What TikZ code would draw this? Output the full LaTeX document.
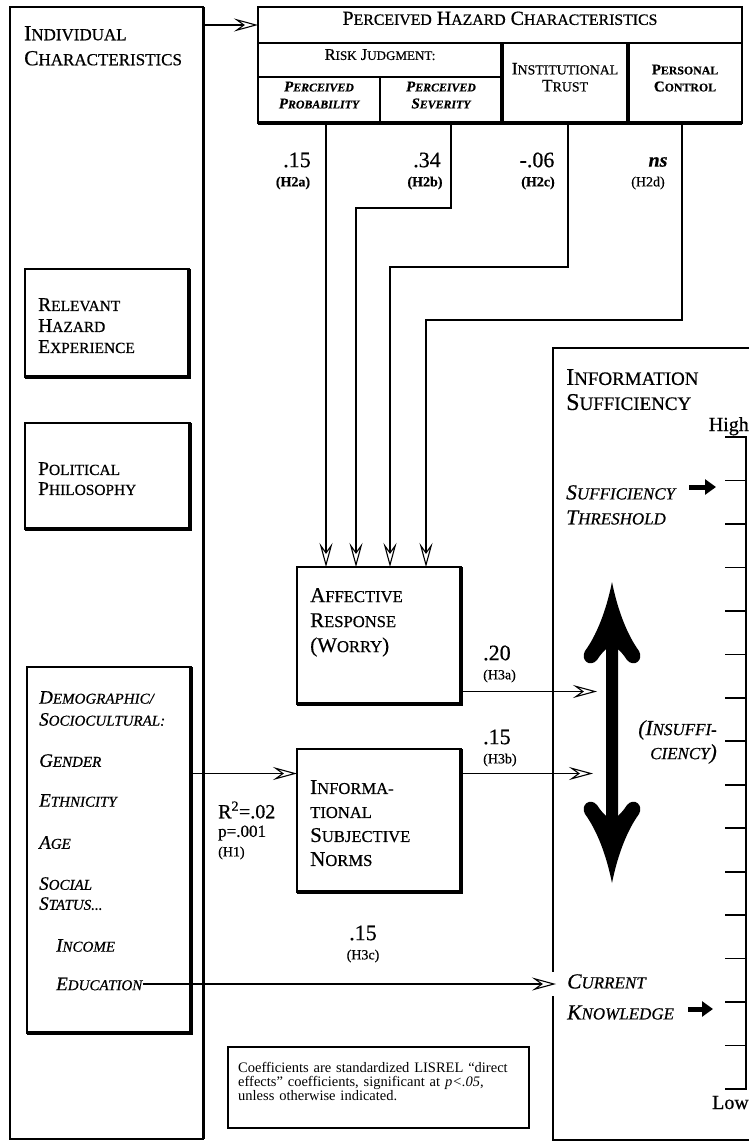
\documentclass[tikz,border=0pt]{standalone}
\usepackage{fontspec}
\setmainfont{Liberation Serif}[FakeBold=0.6]
\newfontfamily\timesf{Liberation Serif}
\usetikzlibrary{arrows.meta,fit,calc}
\makeatletter
\newcommand\fsc[2]{#1{\fontsize{\the\dimexpr0.79\dimexpr\f@size pt\relax\relax}{\the\baselineskip}\selectfont\uppercase{#2}}}
\makeatother
\tikzset{
  box/.style={draw, line width=1.3pt, inner sep=0pt, outer sep=0pt},
  heavy/.style={line width=3.5pt},
  conn/.style={line width=1.1pt, -{Stealth[open,fill=white,length=24pt,width=13pt,inset=9pt,line width=1.1pt]}},
  plain/.style={line width=1.1pt},
  txt/.style={anchor=north west, inner sep=0pt, align=left},
  lab/.style={inner sep=0pt},
  fat/.style={line width=5pt, -{Triangle[length=11pt,width=15pt]}},
  tickmark/.style={line width=1.6pt}
}
\begin{document}
\begin{tikzpicture}[x=1pt,y=-1pt]
\useasboundingbox[fill=white] (0,0) rectangle (748,1143);

% ---------- boxes ----------
\node[box, fit={(10,7)(203,1139)}] (indiv) {};
\node[box, fit={(25,269)(189,377)}] (rel) {};
\node[box, fit={(25,423)(190,529)}] (pol) {};
\node[box, fit={(27,667)(191,1033)}] (demo) {};
\node[box, fit={(297,567)(461,704)}] (affect) {};
\node[box, fit={(297,749)(461,892)}] (info) {};
\node[box, fit={(228,1047)(529,1128)}] (coefbox) {};
\node[box, line width=1.8pt, fit={(553,348)(780,1140)}] (suff) {};

\node[box, fit={(258,7)(742,43)}, font=\fontsize{20}{20}\selectfont] (phct)
  {\fsc{P}{erceived} \fsc{H}{azard} \fsc{C}{haracteristics}};
\node[box, fit={(258,43)(502,77)}, font=\fontsize{16.5}{17}\selectfont] (risk)
  {\fsc{R}{isk} \fsc{J}{udgment:}};
\node[box, fit={(258,77)(380,123)}, align=center, font=\bfseries\itshape\fontsize{15}{17}\selectfont] (prob)
  {\fsc{P}{erceived}\\\fsc{P}{robability}};
\node[box, fit={(380,77)(502,123)}, align=center, font=\bfseries\itshape\fontsize{15}{17}\selectfont] (sev)
  {\fsc{P}{erceived}\\\fsc{S}{everity}};
\node[box, fit={(502,43)(628,123)}, align=center, font=\fontsize{17.5}{17}\selectfont] (trust)
  {\fsc{I}{nstitutional}\\\fsc{T}{rust}};
\node[box, fit={(628,43)(742,123)}, align=center, font=\bfseries\fontsize{15}{17}\selectfont] (ctrl)
  {\fsc{P}{ersonal}\\\fsc{C}{ontrol}};

% heavy edges
\draw[heavy] (trust.north west) -- (trust.south west);
\draw[heavy] (ctrl.north west) -- (ctrl.south west);
\draw[heavy] (prob.south west) -- (ctrl.south east);
\draw[line width=2.5pt] (ctrl.north east) -- (ctrl.south east);
\draw[line width=3pt] (indiv.north east) -- (indiv.south east);
\foreach \n in {rel,pol,demo,affect,info}{
  \draw[heavy] (\n.north east) -- (\n.south east) -- (\n.south west);
}

% ---------- texts ----------
\node[txt, font=\fontsize{21.5}{25}\selectfont] (indivt) at (24,26) {\fsc{I}{ndividual}\\\fsc{C}{haracteristics}};
\node[txt, font=\fontsize{19.5}{21}\selectfont] (relt) at (38,298) {\fsc{R}{elevant}\\\fsc{H}{azard}\\\fsc{E}{xperience}};
\node[txt, font=\fontsize{19.5}{20}\selectfont] (polt) at (38,462) {\fsc{P}{olitical}\\\fsc{P}{hilosophy}};
\node[txt, font=\itshape\fontsize{19}{22}\selectfont] (demt) at (39,691) {\fsc{D}{emographic/}\\\fsc{S}{ociocultural:}};
\node[txt, font=\itshape\fontsize{19}{22}\selectfont] (gen) at (39,754) {\fsc{G}{ender}};
\node[txt, font=\itshape\fontsize{19}{22}\selectfont] (eth) at (39,794) {\fsc{E}{thnicity}};
\node[txt, font=\itshape\fontsize{19}{22}\selectfont] (age) at (39,836) {\fsc{A}{ge}};
\node[txt, font=\itshape\fontsize{19}{20}\selectfont] (soc) at (39,877) {\fsc{S}{ocial}\\\fsc{S}{tatus...}};
\node[txt, font=\itshape\fontsize{19}{22}\selectfont] (inc) at (56,939) {\fsc{I}{ncome}};
\node[anchor=west, inner sep=0pt, font=\itshape\fontsize{19}{22}\selectfont] (edu) at (56,984) {\fsc{E}{ducation}};

\node[txt, font=\fontsize{21}{25}\selectfont] (afft) at (310,588) {\fsc{A}{ffective}\\\fsc{R}{esponse}\\(\fsc{W}{orry})};
\node[txt, font=\fontsize{21}{24}\selectfont] (inft) at (310,780) {\fsc{I}{nforma-}\\\fsc{}{tional}\\\fsc{S}{ubjective}\\\fsc{N}{orms}};

\node[txt, font=\fontsize{24}{25}\selectfont] (sufft) at (566,369) {\fsc{I}{nformation}\\\fsc{S}{ufficiency}};
\node[txt, font=\itshape\fontsize{21.5}{25}\selectfont] (thr) at (566,485) {\fsc{S}{ufficiency}\\\fsc{T}{hreshold}};
\node[txt, font=\itshape\fontsize{21.5}{31}\selectfont] (cur) at (567,974) {\fsc{C}{urrent}\\\fsc{K}{nowledge}};
\node[anchor=north east, inner sep=0pt, align=right, font=\itshape\fontsize{21.5}{24}\selectfont] (insuf) at (717,720) {(\fsc{I}{nsuffi-}\\\fsc{}{ciency})};
\node[anchor=base east, inner sep=0pt, font=\fontsize{20}{20}\selectfont] (high) at (749,431) {High};
\node[anchor=base east, inner sep=0pt, font=\fontsize{20}{20}\selectfont] (low) at (749,1109) {Low};

\node[anchor=north west, inner sep=0pt, text width=281pt, font=\timesf\fontsize{14.5}{14}\selectfont] (coeft) at (238,1062)
  {\makebox[281pt][s]{Coefficients are standardized LISREL “direct}\newline
   \makebox[281pt][s]{effects” coefficients, significant at \textit{p<.05},}\newline
   unless otherwise indicated.};

% coefficient labels
\node[lab, font=\fontsize{22}{22}\selectfont] (c2a) at (297,160) {.15};
\node[lab, font=\bfseries\fontsize{14}{14}\selectfont] (h2a) at (293,183) {(H2a)};
\node[lab, font=\fontsize{22}{22}\selectfont] (c2b) at (427,160) {.34};
\node[lab, font=\bfseries\fontsize{14}{14}\selectfont] (h2b) at (425,183) {(H2b)};
\node[lab, font=\fontsize{22}{22}\selectfont] (c2c) at (537,160) {-.06};
\node[lab, font=\bfseries\fontsize{14}{14}\selectfont] (h2c) at (538,183) {(H2c)};
\node[lab, font=\bfseries\itshape\fontsize{20}{20}\selectfont] (c2d) at (658,162) {ns};
\node[lab, font=\fontsize{14}{14}\selectfont] (h2d) at (648,183) {(H2d)};
\node[lab, anchor=west, font=\fontsize{22}{22}\selectfont] (c3a) at (483,653) {.20};
\node[lab, anchor=west, font=\fontsize{14}{14}\selectfont] (h3a) at (483,676) {(H3a)};
\node[lab, anchor=west, font=\fontsize{22}{22}\selectfont] (c3b) at (483,737) {.15};
\node[lab, anchor=west, font=\fontsize{14}{14}\selectfont] (h3b) at (483,760) {(H3b)};
\node[lab, font=\fontsize{22}{22}\selectfont] (c3c) at (363,933) {.15};
\node[lab, font=\fontsize{14}{14}\selectfont] (h3c) at (363,956) {(H3c)};
\node[lab, anchor=west, font=\fontsize{20}{20}\selectfont] (r2) at (218,810) {R\textsuperscript{2}=.02};
\node[lab, anchor=west, font=\fontsize{17}{17}\selectfont] (pv) at (218,833) {p=.001};
\node[lab, anchor=west, font=\fontsize{14}{14}\selectfont] (h1) at (218,853) {(H1)};

% ---------- scale ----------
\draw[tickmark] (746,437) -- (746,1089);
\foreach \k in {0,...,15}{
  \draw[tickmark] (725,{437+43.47*\k}) -- (747,{437+43.47*\k});
}

% ---------- big double arrow ----------
\fill (612,582) .. controls (606,612) and (596,636) .. (585,651)
 .. controls (580,660) and (590,668) .. (597,660)
 .. controls (600,655) and (604,651) .. (606,649)
 -- (606,816)
 .. controls (604,814) and (600,810) .. (597,805)
 .. controls (590,797) and (580,805) .. (585,814)
 .. controls (596,829) and (606,853) .. (612,883)
 .. controls (618,853) and (628,829) .. (639,814)
 .. controls (644,805) and (634,797) .. (627,805)
 .. controls (624,810) and (620,814) .. (618,816)
 -- (618,649)
 .. controls (620,651) and (624,655) .. (627,660)
 .. controls (634,668) and (644,660) .. (639,651)
 .. controls (628,636) and (618,612) .. (612,582) -- cycle;

% small fat arrows
\coordinate (thrA) at (689,487);
\coordinate (thrB) at (716,487);
\draw[fat] (thrA) -- (thrB);
\coordinate (curA) at (688,1009);
\coordinate (curB) at (713,1009);
\draw[fat] (curA) -- (curB);

% ---------- connectors ----------
\draw[conn] (indiv.east |- phct.west) -- (phct.west);

\coordinate (pA) at ([xshift=7pt]prob.south);
\draw[conn] (pA) -- (pA |- affect.north);
\coordinate (pB) at ([xshift=10pt]sev.south);
\coordinate (aB) at ([xshift=-23pt]affect.north);
\draw[conn] (pB) -- ++(0,85) -| (aB);
\coordinate (pC) at ([xshift=3pt]trust.south);
\coordinate (aC) at ([xshift=11pt]affect.north);
\draw[conn] (pC) -- ++(0,144) -| (aC);
\coordinate (pD) at ([xshift=-3pt]ctrl.south);
\coordinate (aD) at ([xshift=47pt]affect.north);
\draw[conn] (pD) -- ++(0,197) -| (aD);

\coordinate (iin) at ([yshift=47pt]info.west);
\draw[conn] (demo.east |- iin) -- (iin);

\coordinate (aout) at ([yshift=-56pt]affect.east);
\coordinate (h3aend) at (597,692);
\draw[conn] (aout) -- (aout -| h3aend);
\coordinate (iout) at ([yshift=47pt]info.east);
\coordinate (h3bend) at (593,773);
\draw[conn] (iout) -- (iout -| h3bend);

\coordinate (ein) at (edu.east -| suff.west);
\fill[white] ($(ein)+(-3,-12)$) rectangle ($(ein)+(3,12)$);
\draw[conn] (edu.east) -- ([xshift=3pt]ein);
\end{tikzpicture}
\end{document}
